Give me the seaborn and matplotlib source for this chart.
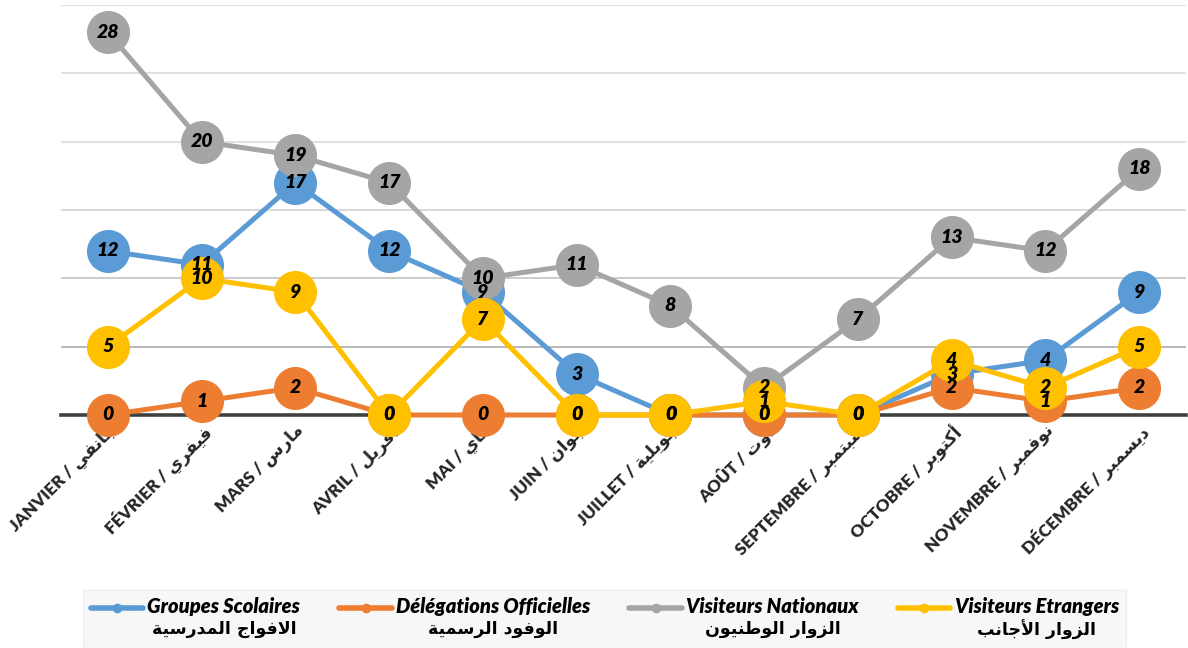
import numpy as np
import pandas as pd
import seaborn as sns
import matplotlib
matplotlib.use("Agg")
import matplotlib.pyplot as plt
from matplotlib.lines import Line2D
from matplotlib.offsetbox import (AnchoredOffsetbox, DrawingArea, HPacker,
                                  TextArea, VPacker)

# ----------------------
# Data
# ----------------------
mois_fr = ["JANVIER", "FÉVRIER", "MARS", "AVRIL", "MAI", "JUIN", "JUILLET",
           "AOÛT", "SEPTEMBRE", "OCTOBRE", "NOVEMBRE", "DÉCEMBRE"]
mois_ar = ["جانفي", "فيفري", "مارس", "أفريل", "ماي", "جوان", "جويلية",
           "أوت", "سبتمبر", "أكتوبر", "نوفمبر", "ديسمبر"]

series_fr = ["Groupes Scolaires", "Délégations Officielles",
             "Visiteurs Nationaux", "Visiteurs Etrangers"]
series_ar = ["الافواج المدرسية", "الوفود الرسمية",
             "الزوار الوطنيون", "الزوار الأجانب"]

groupes_scolaires = [12, 11, 17, 12, 9, 3, 0, 0, 0, 3, 4, 9]
delegations_officielles = [0, 1, 2, 0, 0, 0, 0, 0, 0, 2, 1, 2]
visiteurs_nationaux = [28, 20, 19, 17, 10, 11, 8, 2, 7, 13, 12, 18]
visiteurs_etrangers = [5, 10, 9, 0, 7, 0, 0, 1, 0, 4, 2, 5]

colors = ["#5B9BD5", "#ED7D31", "#A5A5A5", "#FFC000"]

# ----------------------
# Arabic shaping (matplotlib has no complex text layout)
# ----------------------
AR_FORMS = {
    "ا": ("\uFE8D", "\uFE8E", None, None),
    "أ": ("\uFE83", "\uFE84", None, None),
    "ب": ("\uFE8F", "\uFE90", "\uFE91", "\uFE92"),
    "ة": ("\uFE93", "\uFE94", None, None),
    "ت": ("\uFE95", "\uFE96", "\uFE97", "\uFE98"),
    "ج": ("\uFE9D", "\uFE9E", "\uFE9F", "\uFEA0"),
    "د": ("\uFEA9", "\uFEAA", None, None),
    "ر": ("\uFEAD", "\uFEAE", None, None),
    "ز": ("\uFEAF", "\uFEB0", None, None),
    "س": ("\uFEB1", "\uFEB2", "\uFEB3", "\uFEB4"),
    "ط": ("\uFEC1", "\uFEC2", "\uFEC3", "\uFEC4"),
    "ف": ("\uFED1", "\uFED2", "\uFED3", "\uFED4"),
    "ك": ("\uFED9", "\uFEDA", "\uFEDB", "\uFEDC"),
    "ل": ("\uFEDD", "\uFEDE", "\uFEDF", "\uFEE0"),
    "م": ("\uFEE1", "\uFEE2", "\uFEE3", "\uFEE4"),
    "ن": ("\uFEE5", "\uFEE6", "\uFEE7", "\uFEE8"),
    "و": ("\uFEED", "\uFEEE", None, None),
    "ي": ("\uFEF1", "\uFEF2", "\uFEF3", "\uFEF4"),
}
LAM_ALEF = {"ا": ("\uFEFB", "\uFEFC"), "أ": ("\uFEF7", "\uFEF8")}


def shape_word(w):
    tokens = []
    i = 0
    while i < len(w):
        c = w[i]
        if c == "ل" and i + 1 < len(w) and w[i + 1] in LAM_ALEF:
            iso, fin = LAM_ALEF[w[i + 1]]
            tokens.append((iso, fin, None, None))
            i += 2
        else:
            tokens.append(AR_FORMS[c])
            i += 1
    out = []
    for k, t in enumerate(tokens):
        prev_joins = k > 0 and tokens[k - 1][2] is not None
        next_joins = t[2] is not None and k + 1 < len(tokens)
        if prev_joins and next_joins:
            out.append(t[3])
        elif prev_joins:
            out.append(t[1])
        elif next_joins:
            out.append(t[2])
        else:
            out.append(t[0])
    return "".join(reversed(out))


def ar(text):
    return " ".join(shape_word(w) for w in reversed(text.split(" ")))


# ----------------------
# Long-form table
# ----------------------
values = [groupes_scolaires, delegations_officielles,
          visiteurs_nationaux, visiteurs_etrangers]
df = pd.DataFrame({
    "pos": np.tile(np.arange(len(mois_fr)), len(series_fr)),
    "valeur": np.concatenate(values),
    "serie": np.repeat(series_fr, len(mois_fr)),
})

# ----------------------
# Plot
# ----------------------
sns.set_style("white")
plt.rcParams["font.family"] = ["Lato", "DejaVu Sans"]

fig = plt.figure(figsize=(11.88, 6.48), dpi=100)
ax = fig.add_axes([61 / 1188, 1 - 415 / 648, 1125 / 1188, 410 / 648])

sns.lineplot(data=df, x="pos", y="valeur", hue="serie", hue_order=series_fr,
             palette=colors, marker="o", markersize=31, markeredgewidth=0,
             linewidth=3.6, legend=False, ax=ax, zorder=3, clip_on=False)

for vals in values:
    for i, v in enumerate(vals):
        ax.text(i, v, str(v), ha="center", va="center", fontsize=14,
                fontweight="heavy", fontstyle="italic", color="black",
                zorder=6, clip_on=False)

ax.set_xlim(-0.5, len(mois_fr) - 0.5)
ax.set_ylim(0, 30)
ax.set_yticks(np.arange(5, 31, 5))
ax.set_yticklabels([])
ax.yaxis.grid(True, linewidth=1.1)
grid_cols = ["#A6A6A6", "#BFBFBF", "#CFCFCF", "#D9D9D9", "#D9D9D9", "#D9D9D9"]
for gl, c in zip(ax.get_ygridlines(), grid_cols):
    gl.set_color(c)
ax.set_axisbelow(True)
ax.tick_params(axis="both", length=0)
for s in ["left", "right", "top"]:
    ax.spines[s].set_visible(False)
ax.spines["bottom"].set_color("#404040")
ax.spines["bottom"].set_linewidth(2.6)
ax.spines["bottom"].set_zorder(2.5)

ax.set_xticks(np.arange(len(mois_fr)))
ax.set_xticklabels([f"{fr} / {ar(a)}" for fr, a in zip(mois_fr, mois_ar)],
                   rotation=45, ha="right", va="top", rotation_mode="anchor",
                   fontsize=12.3, fontweight="heavy")
ax.tick_params(axis="x", pad=5)
ax.set_xlabel("")
ax.set_ylabel("")

# ----------------------
# Legend (two-line entries, French + Arabic)
# ----------------------
entries = []
for fr, a, c in zip(series_fr, series_ar, colors):
    da = DrawingArea(38, 16, 0, 0)
    da.add_artist(Line2D([0, 38], [8, 8], color=c, linewidth=4,
                         solid_capstyle="round"))
    da.add_artist(Line2D([19], [8], color=c, marker="o", markersize=7,
                         markeredgewidth=0))
    txt = VPacker(children=[
        TextArea(fr, textprops=dict(fontsize=14.5, fontweight="heavy",
                                    fontstyle="italic", color="black")),
        TextArea(ar(a), textprops=dict(fontsize=12.5, fontweight="bold",
                                       family="DejaVu Sans", color="black")),
    ], align="center", pad=0, sep=3)
    entries.append(HPacker(children=[da, txt], align="top", pad=0, sep=3))

leg = AnchoredOffsetbox(loc="lower center",
                        child=HPacker(children=entries, align="top",
                                      pad=0, sep=28),
                        pad=0.55, borderpad=0, frameon=True,
                        bbox_to_anchor=(0.509, 0.0),
                        bbox_transform=fig.transFigure)
leg.patch.set_facecolor("#F7F7F7")
leg.patch.set_edgecolor("#EEEEEE")
leg.patch.set_boxstyle("square", pad=0)
fig.add_artist(leg)

plt.savefig("out.png", dpi=100)
